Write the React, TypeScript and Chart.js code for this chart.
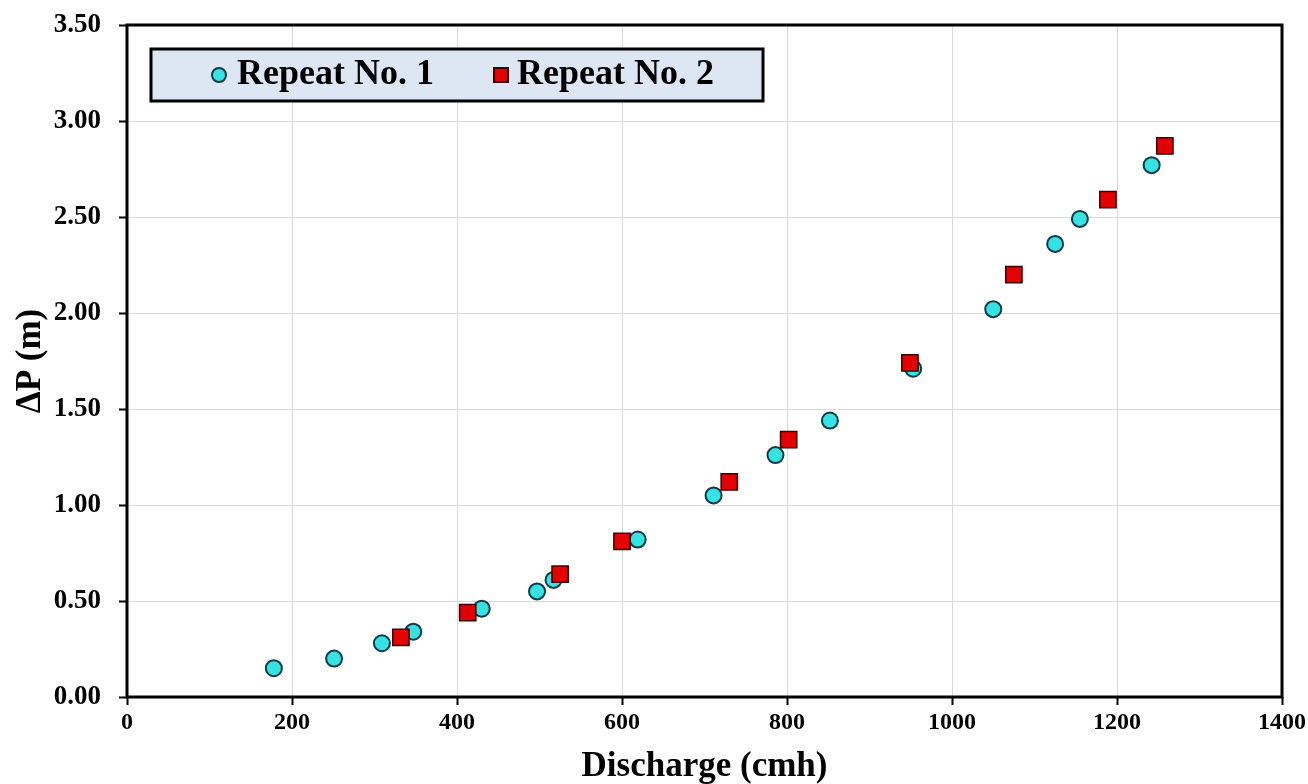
import React, { useEffect, useRef } from 'react';
import { Chart, registerables } from 'chart.js';

Chart.register(...registerables);

const seriesLabels = ['Repeat No. 1', 'Repeat No. 2'];
const repeat1Discharge = [178, 251, 309, 347, 430, 497, 517, 619, 711, 786, 852, 953, 1050, 1125, 1155, 1242];
const repeat1DeltaP = [0.15, 0.2, 0.28, 0.34, 0.46, 0.55, 0.61, 0.82, 1.05, 1.26, 1.44, 1.71, 2.02, 2.36, 2.49, 2.77];
const repeat2Discharge = [332, 413, 525, 600, 730, 802, 949, 1075, 1189, 1258];
const repeat2DeltaP = [0.31, 0.44, 0.64, 0.81, 1.12, 1.34, 1.74, 2.2, 2.59, 2.87];
const xTickValues = [0, 200, 400, 600, 800, 1000, 1200, 1400];
const yTickValues = [0, 0.5, 1, 1.5, 2, 2.5, 3, 3.5];
const xTitle = 'Discharge (cmh)';
const yTitle = '\u0394P (m)';

const FONT = '"Liberation Serif", "Times New Roman", serif';
const CYAN = '#35e3e3';
const CYAN_EDGE = '#0b3a48';
const RED = '#e40000';
const RED_EDGE = '#3a0000';

const framePlugin = {
  id: 'frame',
  afterDraw(chart: any) {
    const { ctx, chartArea } = chart;
    ctx.save();
    ctx.strokeStyle = '#000';
    ctx.lineWidth = 3;
    ctx.strokeRect(chartArea.left, chartArea.top, chartArea.right - chartArea.left, chartArea.bottom - chartArea.top);
    ctx.restore();
  },
};

const legendBoxPlugin = {
  id: 'legendBox',
  afterDraw(chart: any) {
    const { ctx, chartArea } = chart;
    const left = chartArea.left + 24;
    const top = chartArea.top + 24;
    const w = 612;
    const h = 52;
    ctx.save();
    ctx.fillStyle = '#dde7f4';
    ctx.fillRect(left, top, w, h);
    ctx.strokeStyle = '#000';
    ctx.lineWidth = 3;
    ctx.strokeRect(left, top, w, h);
    const cy = top + h / 2;
    const entries = [
      { markerX: left + 68, textX: left + 86 },
      { markerX: left + 350, textX: left + 366 },
    ];
    chart.data.datasets.forEach((ds: any, i: number) => {
      const e = entries[i];
      ctx.fillStyle = ds.backgroundColor;
      ctx.strokeStyle = ds.borderColor;
      ctx.lineWidth = 2;
      ctx.beginPath();
      if (ds.pointStyle === 'rect') {
        ctx.rect(e.markerX - 7, cy - 7, 14, 14);
      } else {
        ctx.arc(e.markerX, cy, 7, 0, Math.PI * 2);
      }
      ctx.fill();
      ctx.stroke();
      ctx.fillStyle = '#000';
      ctx.font = `bold 36px ${FONT}`;
      ctx.textBaseline = 'middle';
      ctx.textAlign = 'left';
      ctx.fillText(ds.label, e.textX, cy);
    });
    ctx.restore();
  },
};

export default function App() {
  const canvasRef = useRef<HTMLCanvasElement | null>(null);

  useEffect(() => {
    const canvas = canvasRef.current;
    if (!canvas) return;
    const chart = new Chart(canvas, {
      type: 'scatter',
      data: {
        datasets: [
          {
            label: seriesLabels[0],
            data: repeat1Discharge.map((x, i) => ({ x, y: repeat1DeltaP[i] })),
            pointStyle: 'circle',
            pointRadius: 8,
            pointBorderWidth: 2,
            backgroundColor: CYAN,
            borderColor: CYAN_EDGE,
            order: 1,
          },
          {
            label: seriesLabels[1],
            data: repeat2Discharge.map((x, i) => ({ x, y: repeat2DeltaP[i] })),
            pointStyle: 'rect',
            pointRadius: 11.5,
            pointBorderWidth: 1.5,
            backgroundColor: RED,
            borderColor: RED_EDGE,
            order: 0,
          },
        ],
      } as any,
      options: {
        animation: false,
        responsive: false,
        devicePixelRatio: 1,
        layout: { padding: { top: 25, right: 26, bottom: 0, left: 0 } },
        plugins: {
          legend: { display: false },
          tooltip: { enabled: false },
        },
        scales: {
          x: {
            type: 'linear',
            min: xTickValues[0],
            max: xTickValues[xTickValues.length - 1],
            afterBuildTicks: (scale: any) => {
              scale.ticks = xTickValues.map((v) => ({ value: v }));
            },
            afterFit: (scale: any) => {
              scale.height = 87;
              scale.paddingLeft = 0;
              scale.paddingRight = 0;
            },
            grid: {
              color: '#d9d9d9',
              lineWidth: 1,
              drawTicks: true,
              tickLength: 8,
              tickColor: '#000',
              tickWidth: 2,
            },
            border: { display: false },
            ticks: {
              padding: 3,
              color: '#000',
              font: { family: FONT, size: 24, weight: 'bold' },
              callback: (v: any) => String(v),
            },
            title: {
              display: true,
              text: xTitle,
              color: '#000',
              font: { family: FONT, size: 35, weight: 'bold', lineHeight: 1 },
              padding: { top: 0, bottom: 0 },
            },
          },
          y: {
            type: 'linear',
            min: yTickValues[0],
            max: yTickValues[yTickValues.length - 1],
            afterBuildTicks: (scale: any) => {
              scale.ticks = yTickValues.map((v) => ({ value: v }));
            },
            afterFit: (scale: any) => {
              scale.width = 127;
              scale.paddingTop = 0;
              scale.paddingBottom = 0;
            },
            grid: {
              color: '#d9d9d9',
              lineWidth: 1,
              drawTicks: true,
              tickLength: 8,
              tickColor: '#000',
              tickWidth: 2,
            },
            border: { display: false },
            ticks: {
              padding: 18,
              color: '#000',
              font: { family: FONT, size: 27, weight: 'bold' },
              callback: (v: any) => Number(v).toFixed(2),
            },
            title: {
              display: true,
              text: yTitle,
              color: '#000',
              font: { family: FONT, size: 35, weight: 'bold', lineHeight: 1 },
              padding: { top: 13, bottom: 0 },
            },
          },
        },
      } as any,
      plugins: [framePlugin, legendBoxPlugin],
    });
    return () => chart.destroy();
  }, []);

  return (
    <div style={{ position: 'fixed', left: 0, top: 0, width: 1308, height: 784, background: '#fff' }}>
      <canvas ref={canvasRef} width={1308} height={784} style={{ width: 1308, height: 784, display: 'block' }} />
    </div>
  );
}
